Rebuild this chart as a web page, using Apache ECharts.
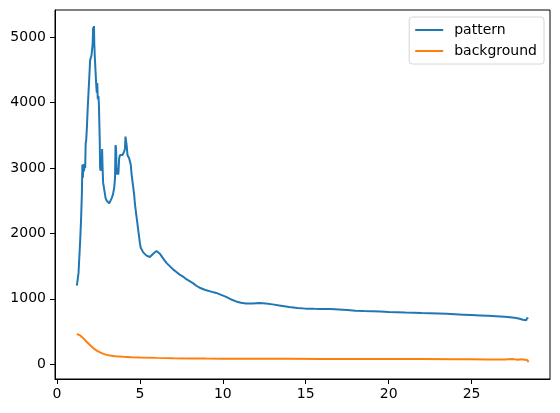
<!DOCTYPE html>
<html>
<head>
<meta charset="utf-8">
<script src="https://cdn.jsdelivr.net/npm/echarts@6/dist/echarts.min.js"></script>
<style>html,body{margin:0;padding:0;background:#fff}#c{width:560px;height:413px}</style>
</head>
<body>
<div id="c"></div>
<script>
var seriesNames = ['pattern', 'background'];
var xTicks = [0, 5, 10, 15, 20, 25];
var yTicks = [0, 1000, 2000, 3000, 4000, 5000];

var patternX = [1.20,1.25,1.30,1.35,1.40,1.45,1.50,1.53,1.56,1.60,1.63,1.66,1.70,1.73,1.76,1.80,1.85,1.90,1.95,2.00,2.04,2.08,2.12,2.15,2.18,2.21,2.23,2.25,2.28,2.32,2.36,2.40,2.43,2.46,2.50,2.53,2.56,2.58,2.60,2.63,2.66,2.70,2.72,2.75,2.78,2.83,2.88,2.93,3.00,3.08,3.15,3.22,3.30,3.38,3.45,3.50,3.53,3.56,3.60,3.65,3.70,3.75,3.80,3.85,3.90,3.95,4.00,4.05,4.10,4.13,4.17,4.20,4.25,4.30,4.35,4.40,4.45,4.50,4.55,4.60,4.65,4.70,4.75,4.80,4.85,4.90,4.95,5.00,5.05,5.10,5.20,5.30,5.40,5.50,5.60,5.70,5.80,5.90,6.00,6.10,6.20,6.30,6.45,6.60,6.80,7.00,7.20,7.40,7.60,7.80,8.00,8.20,8.40,8.60,8.80,9.00,9.30,9.60,9.90,10.20,10.50,10.80,11.10,11.40,11.80,12.20,12.60,13.00,13.50,14.00,14.50,15.00,15.50,16.00,16.50,17.00,17.50,18.00,18.50,19.00,19.50,20.00,20.50,21.00,21.50,22.00,22.50,23.00,23.50,24.00,24.50,25.00,25.50,26.00,26.50,27.00,27.30,27.60,27.90,28.10,28.20,28.30,28.35,28.40,28.42];
var patternY = [1200,1230,1400,1650,1900,2200,2600,3050,2850,3060,2950,3050,3000,3380,3420,3600,3900,4150,4400,4650,4680,4720,4750,4900,5150,4850,5170,4900,4700,4500,4300,4150,4300,4050,4100,3950,3950,3400,3000,2960,2940,3000,3290,3000,2780,2700,2620,2540,2500,2470,2460,2490,2540,2600,2700,2850,3350,3300,2900,3000,2900,3150,3200,3180,3230,3200,3190,3250,3300,3480,3470,3350,3200,3180,3150,3100,3050,2900,2800,2700,2600,2450,2350,2250,2150,2050,1950,1850,1780,1750,1710,1680,1660,1650,1640,1660,1690,1710,1730,1710,1690,1660,1600,1550,1500,1450,1410,1370,1340,1300,1270,1240,1200,1170,1150,1130,1110,1090,1060,1030,990,960,940,930,930,935,930,915,895,875,860,850,847,845,843,838,828,818,812,810,806,800,795,790,787,782,778,774,770,764,758,752,746,740,733,725,718,710,695,680,690,672,710,690,720];

var backgroundX = [1.20,1.30,1.40,1.50,1.60,1.70,1.80,1.90,2.00,2.10,2.20,2.30,2.40,2.50,2.60,2.70,2.80,3.00,3.20,3.50,4.00,4.50,5.00,6.00,7.00,8.00,9.00,10.00,12.00,14.00,16.00,18.00,20.00,22.00,24.00,25.00,26.00,27.00,27.50,27.80,28.00,28.20,28.30,28.38,28.42];
var backgroundY = [462,455,440,420,395,370,340,315,290,265,245,225,208,193,180,168,158,143,132,122,113,107,103,97,92,88,86,85,83,82,81,80,79,78,76,75,74,73,78,68,75,70,80,60,30];

function pairs(xs, ys) { return xs.map(function (x, i) { return [x, ys[i]]; }); }
function plain(v) { return String(v); }

var font = 'DejaVu Sans';
var chart = echarts.init(document.getElementById('c'), null, { renderer: 'canvas' });
chart.setOption({
  animation: false,
  backgroundColor: '#fff',
  grid: { left: 55, right: 10, top: 10, bottom: 34, show: true, borderColor: '#000', borderWidth: 1, backgroundColor: 'transparent' },
  legend: {
    orient: 'vertical', right: 16, top: 17,
    data: seriesNames.map(function (n) { return { name: n, icon: 'rect' }; }),
    itemWidth: 28, itemHeight: 2, itemGap: 5,
    padding: [5, 7, 5, 6],
    backgroundColor: '#fff', borderColor: '#d6d6d6', borderWidth: 1, borderRadius: 3,
    textStyle: { fontFamily: font, fontSize: 14, color: '#000', padding: [0, 0, 0, 6], lineHeight: 16 }
  },
  xAxis: {
    type: 'value', min: -0.12, max: 29.73,
    splitLine: { show: false },
    axisLine: { show: true, onZero: false, lineStyle: { color: '#000', width: 1 } },
    axisTick: { show: true, length: 5, customValues: xTicks, lineStyle: { color: '#000', width: 1 } },
    axisLabel: { margin: 8, customValues: xTicks, formatter: plain, fontFamily: font, fontSize: 14, color: '#000' }
  },
  yAxis: {
    type: 'value', min: -226, max: 5416,
    splitLine: { show: false },
    axisLine: { show: true, onZero: false, lineStyle: { color: '#000', width: 1 } },
    axisTick: { show: true, length: 5, customValues: yTicks, lineStyle: { color: '#000', width: 1 } },
    axisLabel: { margin: 9, customValues: yTicks, formatter: plain, fontFamily: font, fontSize: 14, color: '#000' }
  },
  series: [
    { name: seriesNames[0], type: 'line', data: pairs(patternX, patternY), showSymbol: false, symbol: 'none',
      itemStyle: { color: '#1f77b4' }, lineStyle: { color: '#1f77b4', width: 2 } },
    { name: seriesNames[1], type: 'line', data: pairs(backgroundX, backgroundY), showSymbol: false, symbol: 'none',
      itemStyle: { color: '#ff7f0e' }, lineStyle: { color: '#ff7f0e', width: 2 } }
  ]
});
</script>
</body>
</html>
